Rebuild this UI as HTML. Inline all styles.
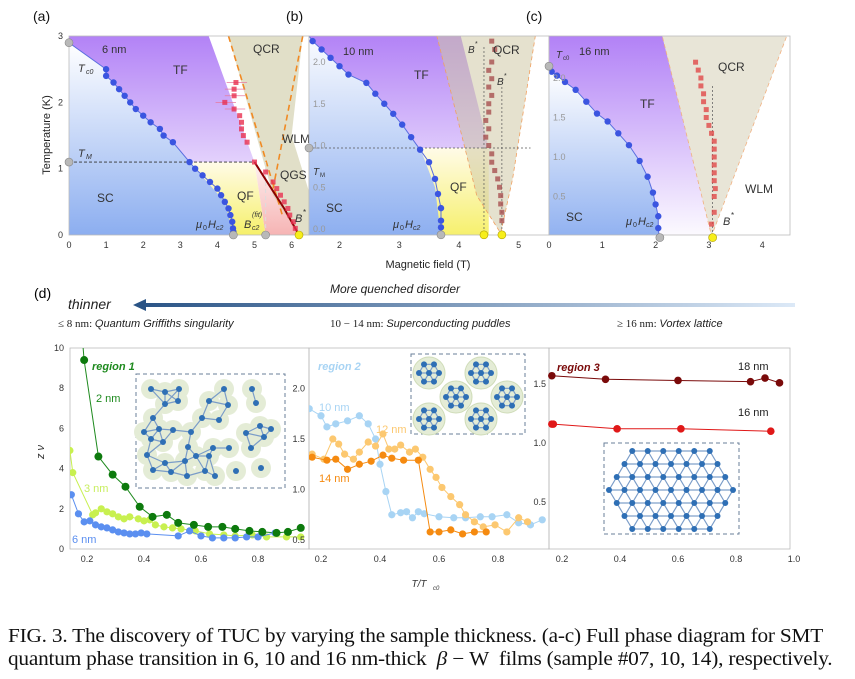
<!DOCTYPE html>
<html><head><meta charset="utf-8"><style>
body{margin:0;background:#fff;width:855px;height:679px;overflow:hidden}
svg{display:block;font-family:"Liberation Sans",sans-serif}
.cap{position:absolute;left:8px;top:625px;font-family:"Liberation Serif",serif;font-size:20px;line-height:23px;color:#111;white-space:nowrap;transform:scaleX(1.065);transform-origin:0 0;letter-spacing:-0.2px}
</style></head><body>
<svg id="fig" width="855" height="679" viewBox="0 0 855 679" xmlns="http://www.w3.org/2000/svg">
<defs>
<linearGradient id="gBlue" x1="0" y1="0" x2="0" y2="1"><stop offset="0" stop-color="#ffffff"/><stop offset="1" stop-color="#8caef0"/></linearGradient>
<linearGradient id="gPurp" x1="0" y1="0" x2="0" y2="1"><stop offset="0" stop-color="#b07ef6"/><stop offset="1" stop-color="#ffffff"/></linearGradient>
<linearGradient id="gYel" x1="0" y1="0" x2="0" y2="1"><stop offset="0" stop-color="#fffbe8"/><stop offset="1" stop-color="#f6f06a"/></linearGradient>
<linearGradient id="gPink" x1="0" y1="0" x2="0" y2="1"><stop offset="0" stop-color="#fdf0f0"/><stop offset="1" stop-color="#f6b4b4"/></linearGradient>
<linearGradient id="gArrow" x1="0" y1="0" x2="1" y2="0"><stop offset="0" stop-color="#2a5486"/><stop offset="1" stop-color="#dce9f7"/></linearGradient>
</defs>
<g id="topPanels"></g>
<g id="botPanels"></g>
<g>
<text x="34" y="298" font-size="14">(d)</text>
<text x="395" y="293" font-size="12" font-style="italic" text-anchor="middle" fill="#222">More quenched disorder</text>
<text x="68" y="309" font-size="14" font-style="italic" fill="#222">thinner</text>
<rect x="142" y="303" width="653" height="4" fill="url(#gArrow)"/>
<polygon points="133,305 146,299 146,311" fill="#2a5486"/>
<text x="58" y="327" font-size="11" fill="#222"><tspan font-family="Liberation Serif">≤ 8 nm: </tspan><tspan font-style="italic">Quantum Griffiths singularity</tspan></text>
<text x="330" y="327" font-size="11" fill="#222"><tspan font-family="Liberation Serif">10 − 14 nm: </tspan><tspan font-style="italic">Superconducting puddles</tspan></text>
<text x="617" y="327" font-size="11" fill="#222"><tspan font-family="Liberation Serif">≥ 16 nm: </tspan><tspan font-style="italic">Vortex lattice</tspan></text>
</g>
</svg>
<div class="cap">FIG. 3. The discovery of TUC by varying the sample thickness. (a-c) Full phase diagram for SMT<br>quantum phase transition in 6, 10 and 16 nm-thick &nbsp;<i>β</i> − W &nbsp;films (sample #07, 10, 14), respectively.</div>
<script>
// ---------- data: phase diagrams (B [T], T [K]) ----------
const aHc2B=[1.0,1.0,1.2,1.35,1.5,1.65,1.8,2.0,2.2,2.45,2.55,2.8,3.25,3.4,3.6,3.8,4.0,4.1,4.2,4.3,4.35,4.4,4.42,4.43];
const aHc2T=[2.5,2.4,2.3,2.2,2.1,2.0,1.9,1.8,1.7,1.6,1.5,1.4,1.1,1.0,0.9,0.8,0.7,0.6,0.5,0.4,0.3,0.2,0.1,0.05];
const aRedB=[4.5,4.45,4.45,4.2,4.45,4.6,4.65,4.65,4.7,4.8,5.0,5.3,5.5,5.6,5.7,5.8,5.9,5.95,6.05,6.1];
const aRedT=[2.3,2.2,2.1,2.0,1.9,1.8,1.7,1.6,1.5,1.4,1.1,0.95,0.8,0.7,0.6,0.5,0.4,0.3,0.2,0.1];
const bHc2B=[1.55,1.7,1.85,2.0,2.15,2.45,2.6,2.75,2.9,3.05,3.2,3.35,3.5,3.6,3.65,3.7,3.7,3.7];
const bHc2T=[2.25,2.15,2.05,1.95,1.85,1.75,1.62,1.5,1.38,1.25,1.1,0.95,0.8,0.6,0.42,0.25,0.1,0.02];
const bRedB=[4.55,4.6,4.55,4.5,4.55,4.5,4.55,4.5,4.5,4.45,4.5,4.45,4.5,4.55,4.55,4.6,4.65,4.68,4.7,4.7,4.72,4.72];
const bRedT=[2.25,2.15,2.0,1.9,1.8,1.7,1.6,1.5,1.4,1.3,1.2,1.1,1.0,0.9,0.8,0.7,0.6,0.5,0.4,0.3,0.2,0.1];
const cHc2B=[0.05,0.15,0.3,0.5,0.7,0.9,1.1,1.3,1.5,1.7,1.85,1.95,2.0,2.05,2.05];
const cHc2T=[2.08,2.03,1.95,1.85,1.7,1.55,1.45,1.3,1.15,0.95,0.75,0.55,0.4,0.25,0.1];
const cRedB=[2.75,2.8,2.85,2.85,2.9,2.9,2.95,2.95,3.0,3.05,3.1,3.1,3.1,3.1,3.1,3.1,3.12,3.1,3.1,3.05];
const cRedT=[2.2,2.1,2.0,1.9,1.8,1.7,1.6,1.5,1.4,1.3,1.2,1.1,1.0,0.9,0.8,0.7,0.6,0.5,0.3,0.15];
// ---------- data: zv vs T/Tc0 ----------
const t2=[0.19,0.24,0.29,0.335,0.385,0.43,0.48,0.52,0.575,0.625,0.675,0.72,0.77,0.815,0.865,0.905,0.95];
const v2=[9.4,4.6,3.7,3.1,2.1,1.6,1.7,1.3,1.2,1.1,1.1,1.0,0.9,0.85,0.8,0.85,1.05];
const t3=[0.14,0.15,0.22,0.23,0.25,0.27,0.29,0.31,0.33,0.35,0.38,0.4,0.42,0.44,0.47,0.5,0.53,0.58,0.63,0.68,0.72,0.78,0.83,0.9,0.95];
const v3=[4.9,3.8,1.7,1.8,2.0,1.85,1.75,1.6,1.5,1.6,1.5,1.4,1.45,1.2,1.1,1.05,1.0,0.9,0.75,0.7,0.65,0.7,0.6,0.6,0.6];
const t6=[0.145,0.17,0.19,0.21,0.23,0.25,0.27,0.29,0.31,0.33,0.35,0.37,0.39,0.41,0.52,0.56,0.6,0.64,0.68,0.72,0.76,0.8,0.86];
const v6=[2.7,1.75,1.35,1.4,1.2,1.1,1.05,0.95,0.85,0.8,0.75,0.75,0.8,0.75,0.65,0.9,0.65,0.55,0.55,0.55,0.6,0.6,0.8];
const t10=[0.2,0.22,0.25,0.29,0.33,0.36,0.385,0.4,0.42,0.44,0.47,0.49,0.51,0.53,0.55,0.6,0.65,0.69,0.74,0.78,0.83,0.87,0.91,0.95];
const v10=[1.73,1.62,1.65,1.68,1.73,1.65,1.5,1.25,0.98,0.75,0.77,0.78,0.72,0.78,0.76,0.73,0.72,0.72,0.73,0.73,0.75,0.67,0.65,0.7];
const t12=[0.17,0.21,0.24,0.26,0.28,0.31,0.33,0.36,0.385,0.41,0.43,0.45,0.47,0.5,0.52,0.545,0.57,0.59,0.61,0.64,0.67,0.69,0.72,0.75,0.79,0.83,0.87,0.9];
const v12=[1.35,1.3,1.5,1.45,1.35,1.3,1.37,1.47,1.43,1.55,1.4,1.4,1.44,1.37,1.4,1.32,1.2,1.12,1.02,0.93,0.85,0.75,0.68,0.63,0.65,0.58,0.72,0.68];
const t14=[0.17,0.22,0.25,0.29,0.33,0.37,0.41,0.44,0.48,0.53,0.57,0.6,0.64,0.68,0.72,0.76];
const v14=[1.32,1.29,1.3,1.2,1.25,1.28,1.34,1.31,1.29,1.29,0.58,0.58,0.6,0.56,0.58,0.58];
const t18=[0.35,0.6,0.85,0.9,0.95];
const v18=[1.54,1.53,1.52,1.55,1.51];
const t16=[0.17,0.39,0.61,0.92];
const v16=[1.16,1.12,1.12,1.1];
// ---------- tick labels ----------
const aXt=[0,1,2,3,4,5,6], aYt=[0,1,2,3];
const bXt=[2,3,4,5], bYt=["0.0","0.5","1.0","1.5","2.0"];
const cXt=[0,1,2,3,4], cYt=["0.5","1.0","1.5","2.0"];
const d1Yt=[0,2,4,6,8,10], d1Xt=["0.2","0.4","0.6","0.8"];
const d2Yt=["0.5","1.0","1.5","2.0"], d2Xt=["0.2","0.4","0.6","0.8"];
const d3Yt=["0.5","1.0","1.5"], d3Xt=["0.2","0.4","0.6","0.8","1.0"];

const NS="http://www.w3.org/2000/svg";
function mk(p,tag,at){const e=document.createElementNS(NS,tag);for(const k in at)e.setAttribute(k,at[k]);p.appendChild(e);return e;}
function lin(d0,d1,p0,p1){return v=>p0+(v-d0)*(p1-p0)/(d1-d0);}
function pts(xs,ys,X,Y){return xs.map((v,i)=>X(v).toFixed(1)+","+Y(ys[i]).toFixed(1)).join(" ");}
function txt(p,x,y,s,o){const e=mk(p,"text",Object.assign({x:x,y:y,"font-size":11,fill:"#333"},o||{}));e.textContent=s;return e;}

const topG=document.getElementById("topPanels"), botG=document.getElementById("botPanels");

function panel(name,x0,x1,y0,y1){
  const g=mk(topG,"g",{});
  
  
  const cp=mk(g,"clipPath",{id:"cp"+name});mk(cp,"rect",{x:x0,y:y0,width:x1-x0,height:y1-y0});
  const inner=mk(g,"g",{"clip-path":"url(#cp"+name+")"});
  return {g,inner};
}
function blueDots(p,xs,ys,X,Y,name){
  const g=mk(p,"g",{});
  
  
  xs.forEach((v,i)=>{const c=mk(g,"circle",{cx:X(v),cy:Y(ys[i]),r:3.2,fill:"#3b55e0"});
    
    });
}
function redSq(p,xs,ys,X,Y,name,col){
  const g=mk(p,"g",{});
  
  
  xs.forEach((v,i)=>{const s=mk(g,"rect",{x:X(v)-2.5,y:Y(ys[i])-2.5,width:5,height:5,fill:col,opacity:0.8});
    
    });
}
function grey(p,x,y){mk(p,"circle",{cx:x,cy:y,r:4,fill:"#b8b8b8",stroke:"#888","stroke-width":0.6});}
function yel(p,x,y){mk(p,"circle",{cx:x,cy:y,r:4,fill:"#f7ee1a",stroke:"#b0a000","stroke-width":0.6});}

// ===== Panel a =====
{
 const X=lin(0,1,69,106.1), Y=lin(0,1,235,168.7);
 const {g,inner}=panel("panel-a",69,309,36,235);
 const curve=[[0,2.9]].concat(aHc2B.map((b,i)=>[b,aHc2T[i]]));curve.push([4.43,0]);
 const cstr=curve.map(p=>X(p[0])+","+Y(p[1])).join(" ");
 mk(inner,"rect",{x:69,y:36,width:240,height:199,fill:"#fff"});
 mk(inner,"polygon",{points:X(0)+","+Y(3.1)+" "+cstr+" "+X(5.0)+","+Y(1.1)+" "+X(3.7)+","+Y(3.1),fill:"url(#gPurp)"});
 mk(inner,"polygon",{points:cstr+" "+X(0)+","+Y(0),fill:"url(#gBlue)"});
 mk(inner,"polygon",{points:X(3.25)+","+Y(1.1)+" "+X(5.0)+","+Y(1.1)+" "+X(5.3)+","+Y(0)+" "+X(4.43)+","+Y(0)+" "+X(4.2)+","+Y(0.5),fill:"url(#gYel)"});
 mk(inner,"polygon",{points:X(5.0)+","+Y(1.1)+" "+X(6.2)+","+Y(0)+" "+X(5.3)+","+Y(0),fill:"url(#gPink)"});
 mk(inner,"polygon",{points:X(4.3)+","+Y(3)+" "+X(6.3)+","+Y(3)+" "+X(6.0)+","+Y(1.5)+" "+X(6.5)+","+Y(0.6)+" "+X(6.5)+","+Y(0)+" "+X(6.2)+","+Y(0)+" "+X(5.5)+","+Y(0.6),fill:"#c9c59a",opacity:0.55});
 mk(inner,"line",{x1:X(4.3),y1:Y(3),x2:X(5.75),y2:Y(0.3),stroke:"#f08a24","stroke-width":1.6,"stroke-dasharray":"6,4"});
 mk(inner,"line",{x1:X(6.3),y1:Y(3),x2:X(5.5),y2:Y(0.7),stroke:"#f08a24","stroke-width":1.6,"stroke-dasharray":"6,4"});
 mk(inner,"line",{x1:X(0),y1:Y(1.1),x2:X(5.0),y2:Y(1.1),stroke:"#333","stroke-width":0.8,"stroke-dasharray":"3,2"});
 mk(inner,"line",{x1:X(5.3),y1:Y(0),x2:X(5.3),y2:Y(1.1),stroke:"#ddd","stroke-width":1,"stroke-dasharray":"4,3"});
 mk(inner,"polyline",{points:cstr,fill:"none",stroke:"#5a6ee0","stroke-width":1});
 for(let i=0;i<5;i++){mk(inner,"line",{x1:X(aRedB[i]-0.25),x2:X(aRedB[i]+0.3),y1:Y(aRedT[i]),y2:Y(aRedT[i]),stroke:"#e77aa0","stroke-width":0.8});}
 mk(inner,"polyline",{points:pts([5.0,5.4,5.8,6.2],[1.1,0.75,0.4,0.0],X,Y),fill:"none",stroke:"#8a0000","stroke-width":2});
 redSq(inner,aRedB,aRedT,X,Y,"red-crossover-a","#e83050");
 blueDots(inner,aHc2B,aHc2T,X,Y,"hc2-points-a");
 mk(g,"rect",{x:69,y:36,width:240,height:199,fill:"none",stroke:"#bbb","stroke-width":0.8});
 grey(g,X(0),Y(2.9));grey(g,X(0),Y(1.1));grey(g,X(4.43),Y(0));grey(g,X(5.3),Y(0));yel(g,X(6.2),Y(0));
 aXt.forEach(v=>txt(g,X(v),248,String(v),{"text-anchor":"middle","font-size":9}));
 aYt.forEach(v=>txt(g,63,Y(v)+3,String(v),{"text-anchor":"end","font-size":9}));
 txt(g,102,53,"6 nm",{"font-size":11});txt(g,173,74,"TF",{"font-size":12});
 txt(g,253,53,"QCR",{"font-size":12});txt(g,282,143,"WLM",{"font-size":12});
 txt(g,280,179,"QGS",{"font-size":12});txt(g,237,200,"QF",{"font-size":12});
 txt(g,97,202,"SC",{"font-size":12});
 txt(g,78,72,"T",{"font-size":11,"font-style":"italic"});txt(g,86,74,"c0",{"font-size":7,"font-style":"italic"});
 txt(g,78,157,"T",{"font-size":11,"font-style":"italic"});txt(g,86,159,"M",{"font-size":7,"font-style":"italic"});
 txt(g,196,228,"μ",{"font-size":11,"font-style":"italic"});txt(g,203,230,"0",{"font-size":7});txt(g,208,228,"H",{"font-size":11,"font-style":"italic"});txt(g,216,230,"c2",{"font-size":7,"font-style":"italic"});
 txt(g,244,228,"B",{"font-size":11,"font-style":"italic"});txt(g,252,217,"(fit)",{"font-size":7,"font-style":"italic"});txt(g,252,230,"c2",{"font-size":7,"font-style":"italic"});
 txt(g,295,222,"B",{"font-size":11,"font-style":"italic"});txt(g,303,215,"*",{"font-size":8});
 txt(g,33,21,"(a)",{"font-size":14,fill:"#111"});
 const yl=txt(g,0,0,"Temperature (K)",{"font-size":11,"text-anchor":"middle",transform:"translate(50,135) rotate(-90)",fill:"#222"});
 
}
// ===== Panel b =====
{
 const X=lin(2,3,339.5,399.2), Y=lin(0,1,229,145.5);
 const {g,inner}=panel("panel-b",309,549,36,235);
 const curve=bHc2B.map((b,i)=>[b,bHc2T[i]]);curve.unshift([1.4,2.4]);curve.push([3.7,-0.1]);
 const cstr=curve.map(p=>X(p[0])+","+Y(p[1])).join(" ");
 mk(inner,"rect",{x:309,y:36,width:240,height:199,fill:"#fff"});
 mk(inner,"polygon",{points:X(1.4)+","+Y(2.4)+" "+cstr+" "+X(4.5)+","+Y(0.97)+" "+X(4.0)+","+Y(2.4),fill:"url(#gPurp)"});
 mk(inner,"polygon",{points:cstr+" "+X(1.4)+","+Y(-0.1),fill:"url(#gBlue)"});
 mk(inner,"polygon",{points:X(3.35)+","+Y(0.97)+" "+X(4.5)+","+Y(0.97)+" "+X(4.5)+","+Y(-0.1)+" "+X(3.7)+","+Y(-0.1)+" "+X(3.6)+","+Y(0.5),fill:"url(#gYel)"});
 mk(inner,"polygon",{points:X(3.6)+","+Y(2.4)+" "+X(5.3)+","+Y(2.4)+" "+X(4.9)+","+Y(0.6)+" "+X(4.7)+","+Y(-0.05)+" "+X(4.3)+","+Y(0.4),fill:"#cfc9a6",opacity:0.55});
 mk(inner,"polyline",{points:pts([3.6,4.3,4.7],[2.4,0.4,-0.05],X,Y),fill:"none",stroke:"#f0a060","stroke-width":0.8,"stroke-dasharray":"4,3"});
 mk(inner,"polyline",{points:pts([5.3,4.9,4.7],[2.4,0.6,-0.05],X,Y),fill:"none",stroke:"#f0a060","stroke-width":0.8,"stroke-dasharray":"4,3"});
 mk(inner,"line",{x1:309,y1:Y(0.97),x2:X(5.2),y2:Y(0.97),stroke:"#555","stroke-width":0.7,"stroke-dasharray":"2,2"});
 mk(inner,"line",{x1:X(4.42),y1:Y(0),x2:X(4.42),y2:Y(2.2),stroke:"#555","stroke-width":0.7,"stroke-dasharray":"2,2"});
 mk(inner,"line",{x1:X(4.72),y1:Y(0),x2:X(4.72),y2:Y(1.7),stroke:"#555","stroke-width":0.7,"stroke-dasharray":"2,2"});
 mk(inner,"polyline",{points:cstr,fill:"none",stroke:"#5a6ee0","stroke-width":1});
 redSq(inner,bRedB,bRedT,X,Y,"red-crossover-b","#a85050");
 blueDots(inner,bHc2B,bHc2T,X,Y,"hc2-points-b");
 mk(g,"rect",{x:309,y:36,width:240,height:199,fill:"none",stroke:"#bbb","stroke-width":0.8});
 grey(g,309,Y(0.97));grey(g,X(3.7),Y(-0.07));yel(g,X(4.42),Y(-0.07));yel(g,X(4.72),Y(-0.07));
 bXt.forEach(v=>txt(g,X(v),248,String(v),{"text-anchor":"middle","font-size":9}));
 bYt.forEach(v=>txt(g,313,Y(+v)+3,v,{"font-size":9,fill:"#999"}));
 txt(g,343,55,"10 nm",{"font-size":11});txt(g,414,79,"TF",{"font-size":12});
 txt(g,493,54,"QCR",{"font-size":12});txt(g,450,191,"QF",{"font-size":12});
 txt(g,326,212,"SC",{"font-size":12});
 txt(g,468,53,"B",{"font-size":10,"font-style":"italic"});txt(g,475,46,"*",{"font-size":7});
 txt(g,497,85,"B",{"font-size":10,"font-style":"italic"});txt(g,504,78,"*",{"font-size":7});
 txt(g,313,175,"T",{"font-size":10,"font-style":"italic"});txt(g,320,177,"M",{"font-size":6});
 txt(g,393,228,"μ",{"font-size":11,"font-style":"italic"});txt(g,400,230,"0",{"font-size":7});txt(g,405,228,"H",{"font-size":11,"font-style":"italic"});txt(g,413,230,"c2",{"font-size":7,"font-style":"italic"});
 txt(g,286,21,"(b)",{"font-size":14,fill:"#111"});
 const xl=txt(g,428,268,"Magnetic field (T)",{"font-size":11,"text-anchor":"middle",fill:"#222"});
 
}
// ===== Panel c =====
{
 const X=lin(0,1,549,602.3), Y=lin(0,1,236,157);
 const {g,inner}=panel("panel-c",549,790,36,235);
 const curve=cHc2B.map((b,i)=>[b,cHc2T[i]]);curve.unshift([0,2.1]);curve.push([2.08,-0.1]);
 const cstr=curve.map(p=>X(p[0])+","+Y(p[1])).join(" ");
 mk(inner,"rect",{x:549,y:36,width:241,height:199,fill:"#fff"});
 mk(inner,"polygon",{points:X(0)+","+Y(2.6)+" "+cstr+" "+X(3.05)+","+Y(0)+" "+X(2.1)+","+Y(2.6),fill:"url(#gPurp)"});
 mk(inner,"polygon",{points:cstr+" "+X(0)+","+Y(-0.1),fill:"url(#gBlue)"});
 mk(inner,"polygon",{points:X(2.1)+","+Y(2.6)+" "+X(4.5)+","+Y(2.6)+" "+X(3.05)+","+Y(0),fill:"#d2ccb0",opacity:0.5});
 mk(inner,"polyline",{points:pts([2.1,3.05,4.5],[2.6,0,2.6],X,Y),fill:"none",stroke:"#f0b080","stroke-width":0.8,"stroke-dasharray":"4,3"});
 mk(inner,"line",{x1:X(3.07),y1:Y(0),x2:X(3.07),y2:Y(1.9),stroke:"#555","stroke-width":0.7,"stroke-dasharray":"2,2"});
 mk(inner,"polyline",{points:cstr,fill:"none",stroke:"#5a6ee0","stroke-width":1});
 redSq(inner,cRedB,cRedT,X,Y,"red-crossover-c","#e04848");
 blueDots(inner,cHc2B,cHc2T,X,Y,"hc2-points-c");
 mk(g,"rect",{x:549,y:36,width:241,height:199,fill:"none",stroke:"#bbb","stroke-width":0.8});
 grey(g,549,Y(2.15));grey(g,X(2.08),Y(-0.02));yel(g,X(3.07),Y(-0.02));
 cXt.forEach(v=>txt(g,X(v),248,String(v),{"text-anchor":"middle","font-size":9}));
 cYt.forEach(v=>txt(g,553,Y(+v)+3,v,{"font-size":9,fill:"#999"}));
 txt(g,579,55,"16 nm",{"font-size":11});txt(g,640,108,"TF",{"font-size":12});
 txt(g,718,71,"QCR",{"font-size":12});txt(g,745,193,"WLM",{"font-size":12});
 txt(g,566,221,"SC",{"font-size":12});txt(g,723,225,"B",{"font-size":11,"font-style":"italic"});txt(g,731,218,"*",{"font-size":8});
 txt(g,556,58,"T",{"font-size":10,"font-style":"italic"});txt(g,563,60,"c0",{"font-size":6});
 txt(g,626,225,"μ",{"font-size":11,"font-style":"italic"});txt(g,633,227,"0",{"font-size":7});txt(g,638,225,"H",{"font-size":11,"font-style":"italic"});txt(g,646,227,"c2",{"font-size":7,"font-style":"italic"});
 txt(g,526,21,"(c)",{"font-size":14,fill:"#111"});
}

// ===== Bottom panels =====
function series(p,xs,ys,X,Y,col,name,r,lw){
  const g=mk(p,"g",{});
  
  
  mk(g,"polyline",{points:pts(xs,ys,X,Y),fill:"none",stroke:col,"stroke-width":(lw===undefined?1:lw)});
  xs.forEach((v,i)=>{const c=mk(g,"circle",{cx:X(v),cy:Y(ys[i]),r:r||4,fill:col});
    
    });
}
function frame(p,x0,x1){mk(p,"rect",{x:x0,y:348,width:x1-x0,height:201,fill:"none",stroke:"#bbb","stroke-width":0.8});}
function insetBox(p,x,y,w,h,name){const r=mk(p,"rect",{x:x,y:y,width:w,height:h,fill:"#fff",stroke:"#6a7f99","stroke-width":1,"stroke-dasharray":"4,3"});
  }
function drawNet(p,nodes,maxd){
  for(let i=0;i<nodes.length;i++)for(let j=i+1;j<nodes.length;j++){const dx=nodes[i][0]-nodes[j][0],dy=nodes[i][1]-nodes[j][1];
    if(Math.hypot(dx,dy)<maxd)mk(p,"line",{x1:nodes[i][0],y1:nodes[i][1],x2:nodes[j][0],y2:nodes[j][1],stroke:"#7a9cc8","stroke-width":1.2});}
  nodes.forEach(n=>mk(p,"circle",{cx:n[0],cy:n[1],r:3,fill:"#2e6fb5"}));
}
// d1
{
 const X=lin(0.2,0.4,87,144), Y=lin(0,1,549,528.9);
 const g=mk(botG,"g",{});
 const cp=mk(g,"clipPath",{id:"cpd1"});mk(cp,"rect",{x:70,y:348,width:239,height:201});
 frame(g,70,309);
 d1Yt.forEach(v=>txt(g,64,Y(v)+3,String(v),{"text-anchor":"end","font-size":9}));
 d1Xt.forEach(v=>txt(g,X(+v),562,v,{"text-anchor":"middle","font-size":9}));
 txt(g,0,0,"z ν",{"font-size":11,"font-style":"italic","text-anchor":"middle",transform:"translate(44,452) rotate(-90)"});
 insetBox(g,136,374,149,114,"inset-griffiths");
 const ig=mk(g,"g",{});
 const n1=[[151,389],[165,392],[179,389],[165,404],[178,401],[224,389],[209,401],[228,405],[202,418],[219,420],[252,389],[256,403],[246,433],[260,426],[271,429],[264,437],[251,448],[153,418],[144,432],[159,429],[173,430],[191,432],[151,439],[163,442],[188,447],[213,448],[147,455],[165,463],[185,461],[196,456],[209,456],[229,448],[153,470],[171,472],[187,476],[205,471],[215,476],[236,471],[261,468]];
 n1.forEach(n=>mk(ig,"circle",{cx:n[0],cy:n[1],r:10,fill:"#e4ecd6"}));
 drawNet(ig,n1,21);
 const cl=mk(g,"g",{"clip-path":"url(#cpd1)"});
 mk(cl,"polyline",{points:pts([0.175].concat(t2),[12].concat(v2),X,Y),fill:"none",stroke:"#1e8a1e","stroke-width":1});
 series(cl,t3,v3,X,Y,"#c8f050","series-3nm",3.6);
 series(cl,t6,v6,X,Y,"#5b8ff0","series-6nm",3.6);
 series(cl,t2,v2,X,Y,"#0d7a0d","series-2nm",4,0);
 txt(g,92,370,"region 1",{"font-size":11,"font-weight":"bold","font-style":"italic",fill:"#1e8a1e"});
 txt(g,96,402,"2 nm",{"font-size":11,fill:"#1e8a1e"});
 txt(g,84,492,"3 nm",{"font-size":11,fill:"#c8ee60"});
 txt(g,72,543,"6 nm",{"font-size":11,fill:"#5b8ff0"});
}
// d2
{
 const X=lin(0.2,0.4,321,380), Y=lin(0.5,1.0,540,489.5);
 const g=mk(botG,"g",{});
 const cp=mk(g,"clipPath",{id:"cpd2"});mk(cp,"rect",{x:309,y:348,width:240,height:201});
 frame(g,309,549);
 d2Yt.forEach(v=>txt(g,305,Y(+v)+3,v,{"text-anchor":"end","font-size":9}));
 d2Xt.forEach(v=>txt(g,X(+v),562,v,{"text-anchor":"middle","font-size":9}));
 txt(g,419,587,"T/T",{"font-size":10,"font-style":"italic","text-anchor":"middle"});txt(g,433,590,"c0",{"font-size":6,"font-style":"italic"});
 insetBox(g,411,354,114,80,"inset-puddles");
 const ig=mk(g,"g",{});
 const cen=[[429,373],[481,373],[456,397],[507,397],[429,419],[481,419]];
 cen.forEach(c=>{mk(ig,"circle",{cx:c[0],cy:c[1],r:16,fill:"#e4ecd6",stroke:"#cfdcb8"});
   const nn=[[c[0],c[1]]];for(let k=0;k<6;k++){nn.push([c[0]+10*Math.cos(k*Math.PI/3),c[1]+10*Math.sin(k*Math.PI/3)]);}
   drawNet(ig,nn,11);});
 const cl=mk(g,"g",{"clip-path":"url(#cpd2)"});
 series(cl,[0.16].concat(t10),[1.8].concat(v10),X,Y,"#a8d4f4","series-10nm",3.6);
 series(cl,t12,v12,X,Y,"#fcc870","series-12nm",3.6);
 series(cl,t14,v14,X,Y,"#f58a10","series-14nm",3.6);
 txt(g,318,370,"region 2",{"font-size":11,"font-weight":"bold","font-style":"italic",fill:"#a8d4f4"});
 txt(g,319,411,"10 nm",{"font-size":11,fill:"#a8d4f4"});
 txt(g,376,433,"12 nm",{"font-size":11,fill:"#fcc870"});
 txt(g,319,482,"14 nm",{"font-size":11,fill:"#f58a10"});
}
// d3
{
 const X=lin(0.2,0.4,562,620), Y=lin(1.0,1.5,443,384);
 const g=mk(botG,"g",{});
 frame(g,549,790);
 d3Yt.forEach(v=>txt(g,546,Y(+v)+3,v,{"text-anchor":"end","font-size":9}));
 d3Xt.forEach(v=>txt(g,X(+v),562,v,{"text-anchor":"middle","font-size":9}));
 insetBox(g,604,443,135,91,"inset-vortex-lattice");
 const ig=mk(g,"g",{});const nn=[];
 for(let r=0;r<7;r++){const cnt=9-Math.abs(r-3);const y=451+r*13;const x0=671-(cnt-1)*7.75;
   for(let k=0;k<cnt;k++)nn.push([x0+k*15.5,y]);}
 drawNet(ig,nn,17);
 series(g,[0.165].concat(t18),[1.57].concat(v18),X,Y,"#7a0a0a","series-18nm",3.8);
 series(g,[0.165].concat(t16),[1.16].concat(v16),X,Y,"#e01818","series-16nm",3.8);
 txt(g,557,371,"region 3",{"font-size":11,"font-weight":"bold","font-style":"italic",fill:"#7a0a0a"});
 txt(g,738,370,"18 nm",{"font-size":11,fill:"#222"});
 txt(g,738,416,"16 nm",{"font-size":11,fill:"#222"});
}
</script>
</body></html>
